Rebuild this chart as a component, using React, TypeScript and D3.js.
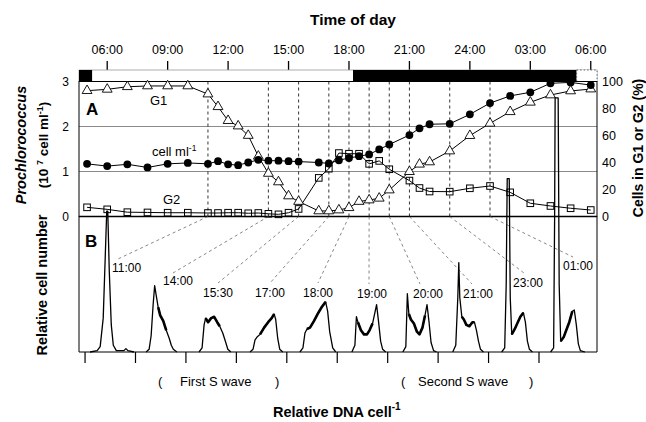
import React from 'react';
import * as d3 from 'd3';

const W = 646;
const H = 422;
const FONT = '"Liberation Sans", Arial, Helvetica, sans-serif';

// sampling times, hours from midnight of the first day
const sampleHours = [
  5, 6, 7, 8, 9, 10, 11, 11.5, 12, 12.5, 13, 13.5, 14, 14.5, 15, 15.5, 16.5, 17,
  17.5, 18, 18.5, 19, 19.5, 20, 21, 21.5, 22, 23, 24, 25, 26, 27, 28, 29, 30,
];
// Prochlorococcus, 10^7 cell ml-1
const cellDensity = [
  1.17, 1.12, 1.16, 1.09, 1.17, 1.19, 1.17, 1.23, 1.16, 1.14, 1.2, 1.26, 1.24,
  1.24, 1.23, 1.22, 1.2, 1.18, 1.25, 1.3, 1.34, 1.38, 1.49, 1.6, 1.81, 1.96,
  2.05, 2.06, 2.27, 2.52, 2.68, 2.76, 2.96, 2.98, 2.92,
];
// % of cells in G1
const g1Percent = [
  93.2, 94.2, 96.1, 96.7, 96.7, 96.7, 90.7, 81.3, 71, 67, 60, 44.6, 31.9, 25.6,
  15.2, 11.1, 4.1, 4.1, 4.8, 6.5, 11.1, 12.2, 13.5, 19.6, 33.2, 38.7, 40.4,
  48.5, 59.9, 69, 77.6, 84.6, 90, 93, 94.4,
];
// % of cells in G2
const g2Percent = [
  6.8, 5.3, 3.2, 3.0, 2.8, 2.8, 2.6, 2.6, 2.8, 2.8, 2.4, 2.6, 2.0, 1.6, 2.8,
  5.6, 28.6, 35.4, 47, 46.5, 46.5, 39, 41.2, 35, 26.6, 21.1, 18.5, 18.4, 20.9,
  22.6, 17.9, 9.8, 7.8, 6.1, 4.8,
];

const timeTicks = [6, 9, 12, 15, 18, 21, 24, 27, 30];
const timeTickLabels = ['06:00', '09:00', '12:00', '15:00', '18:00', '21:00', '24:00', '03:00', '06:00'];
const darkPeriods = [
  [4.6, 5.25],
  [18.2, 29.3],
];

const leftTicks = [0, 1, 2, 3];
const rightTicks = [0, 20, 40, 60, 80, 100];
const gridValues = [1, 2];

// DNA histograms: [position within slot, relative cell number]
const hist1100 = [
  [0.1, 0], [0.24, 0.01], [0.3, 0.04], [0.36, 0.25], [0.4, 0.7], [0.43, 1.04], [0.45, 1.04],
  [0.48, 0.6], [0.52, 0.2], [0.56, 0.05], [0.62, 0.01], [0.77, 0.01], [0.81, 0.025], [0.85, 0.01], [0.97, 0],
];
const hist1400 = [
  [0.21, 0], [0.27, 0.02], [0.31, 0.12], [0.35, 0.35], [0.38, 0.49], [0.41, 0.42], [0.45, 0.33],
  [0.49, 0.27], [0.55, 0.23], [0.61, 0.16], [0.67, 0.1], [0.71, 0.05], [0.75, 0.02], [0.82, 0],
];
const hist1530 = [
  [0.26, 0], [0.32, 0.03], [0.36, 0.2], [0.39, 0.25], [0.44, 0.22], [0.5, 0.25], [0.56, 0.26],
  [0.62, 0.22], [0.67, 0.19], [0.73, 0.14], [0.79, 0.07], [0.83, 0.02], [0.89, 0],
];
const hist1700 = [
  [0.27, 0], [0.33, 0.02], [0.37, 0.09], [0.41, 0.11], [0.47, 0.13], [0.55, 0.18], [0.63, 0.22],
  [0.7, 0.25], [0.75, 0.28], [0.78, 0.24], [0.82, 0.1], [0.86, 0.02], [0.92, 0],
];
const hist1800 = [
  [0.26, 0], [0.32, 0.03], [0.36, 0.14], [0.4, 0.17], [0.46, 0.18], [0.54, 0.23], [0.61, 0.28],
  [0.69, 0.33], [0.77, 0.37], [0.81, 0.3], [0.85, 0.15], [0.91, 0.03], [0.97, 0],
];
const hist1900 = [
  [0.29, 0], [0.35, 0.05], [0.38, 0.26], [0.41, 0.22], [0.47, 0.16], [0.53, 0.13], [0.59, 0.13],
  [0.64, 0.16], [0.7, 0.21], [0.74, 0.28], [0.78, 0.35], [0.82, 0.22], [0.86, 0.08], [0.9, 0.02], [0.96, 0],
];
const hist2000 = [
  [0.3, 0], [0.36, 0.04], [0.39, 0.43], [0.42, 0.28], [0.46, 0.24], [0.52, 0.21], [0.58, 0.15],
  [0.63, 0.13], [0.69, 0.18], [0.74, 0.27], [0.78, 0.35], [0.82, 0.22], [0.86, 0.07], [0.91, 0.01], [0.97, 0],
];
const hist2100 = [
  [0.29, 0], [0.35, 0.05], [0.39, 0.4], [0.41, 0.66], [0.43, 0.4], [0.47, 0.26], [0.51, 0.24],
  [0.56, 0.2], [0.62, 0.19], [0.68, 0.22], [0.72, 0.22], [0.76, 0.16], [0.8, 0.08], [0.84, 0.02], [0.9, 0],
];
const hist2300 = [
  [0.26, 0], [0.32, 0.03], [0.35, 0.5], [0.37, 1.28], [0.41, 1.28], [0.43, 0.4], [0.46, 0.13],
  [0.52, 0.17], [0.58, 0.22], [0.63, 0.26], [0.69, 0.29], [0.73, 0.22], [0.77, 0.08], [0.81, 0.02], [0.87, 0],
];
const hist0100 = [
  [0.23, 0], [0.29, 0.03], [0.31, 1.0], [0.32, 1.875], [0.38, 1.875], [0.4, 0.5], [0.43, 0.08],
  [0.49, 0.11], [0.54, 0.16], [0.6, 0.22], [0.66, 0.3], [0.7, 0.31], [0.74, 0.2], [0.78, 0.06],
  [0.82, 0.01], [0.91, 0],
];
const histograms = [hist1100, hist1400, hist1530, hist1700, hist1800, hist1900, hist2000, hist2100, hist2300, hist0100];
// S-phase stretch of each histogram, where the trace is noisy
const noisyRanges = [
  [0, 0], [0.45, 0.62], [0.38, 0.67], [0.45, 0.75], [0.4, 0.77], [0.41, 0.7],
  [0.42, 0.74], [0.45, 0.72], [0.46, 0.69], [0.43, 0.66],
];
const histHours = [11, 14, 15.5, 17, 18, 19, 20, 21, 23, 25];
const histLabels = ['11:00', '14:00', '15:30', '17:00', '18:00', '19:00', '20:00', '21:00', '23:00', '01:00'];
const dnaTicks = [0, 1, 2, 3, 4, 5, 6, 7, 8, 9];

// where each histogram label sits and where its leader line ends
const labelLayout = [
  { tx: 112, ty: 272, ex: 118, ey: 259 },
  { tx: 163, ty: 285, ex: 173, ey: 273 },
  { tx: 203, ty: 297, ex: 218, ey: 283 },
  { tx: 255, ty: 297, ex: 270, ey: 283 },
  { tx: 303, ty: 297, ex: 318, ey: 283 },
  { tx: 357, ty: 298, ex: 369, ey: 284 },
  { tx: 413, ty: 298, ex: 420, ey: 284 },
  { tx: 463, ty: 298, ex: 472, ey: 284 },
  { tx: 513, ty: 287, ex: 524, ey: 273 },
  { tx: 563, ty: 270, ex: 573, ey: 257 },
];

const plotL = 79;
const plotR = 597;
const barTop = 70;
const aTop = 81.5;
const aBottom = 216.5;
const bBottom = 352;

const xTime = d3.scaleLinear().domain([4.6, 30.31]).range([plotL, plotR]);
const yCells = d3.scaleLinear().domain([0, 3]).range([aBottom, aTop]);
const yPct = d3.scaleLinear().domain([0, 100]).range([aBottom, aTop]);
const xDna = d3.scaleLinear().domain([-0.12, 10.15]).range([plotL, plotR]);
const yRel = d3.scaleLinear().domain([0, 1]).range([bBottom, aBottom]);

export default function App() {
  const cellLine = d3
    .line<number>()
    .x((_, i) => xTime(sampleHours[i]))
    .y((d) => yCells(d));
  const pctLine = d3
    .line<number>()
    .x((_, i) => xTime(sampleHours[i]))
    .y((d) => yPct(d));
  const histLine = (i: number) =>
    d3
      .line<number[]>()
      .x((d) => xDna(i + d[0]))
      .y((d) => yRel(d[1]));
  const triangle = d3.symbol(d3.symbolTriangle, 42)() as string;

  return (
    <svg
      width={W}
      height={H}
      style={{ position: 'absolute', left: 0, top: 0, background: '#fff' }}
      fontFamily={FONT}
    >
      <rect width={W} height={H} fill="#fff" />

      {/* Time of day axis */}
      <text x={353} y={25} fontSize={15.5} fontWeight="bold" textAnchor="middle">
        Time of day
      </text>
      {timeTicks.map((t, i) => (
        <g key={t}>
          <line x1={xTime(t)} x2={xTime(t)} y1={61} y2={barTop} stroke="#000" strokeWidth={1.3} />
          <text x={xTime(t)} y={54} fontSize={12.5} textAnchor="middle">
            {timeTickLabels[i]}
          </text>
        </g>
      ))}
      <rect x={plotL} y={barTop} width={plotR - plotL} height={aTop - barTop} fill="#fff" stroke="#999" strokeWidth={0.8} />
      {darkPeriods.map((p, i) => (
        <rect key={i} x={xTime(p[0])} y={barTop} width={xTime(p[1]) - xTime(p[0])} height={aTop - barTop} fill="#000" />
      ))}
      <rect
        x={xTime(darkPeriods[1][1])}
        y={barTop}
        width={plotR - xTime(darkPeriods[1][1])}
        height={aTop - barTop}
        fill="#fff"
        stroke="#444"
        strokeWidth={0.8}
        strokeDasharray="1.5,2"
      />

      {/* panel A */}
      {gridValues.map((v) => (
        <line key={v} x1={plotL} x2={plotR} y1={yCells(v)} y2={yCells(v)} stroke="#8a8a8a" strokeWidth={1.2} />
      ))}
      {histHours.map((h) => (
        <line key={h} x1={xTime(h)} x2={xTime(h)} y1={aTop} y2={aBottom} stroke="#000" strokeWidth={0.8} strokeDasharray="3,3" />
      ))}
      <rect x={plotL} y={aTop} width={plotR - plotL} height={aBottom - aTop} fill="none" stroke="#000" strokeWidth={1} />

      {leftTicks.map((v) => (
        <text key={v} x={69} y={yCells(v) + 4.5} fontSize={12} textAnchor="end">
          {v}
        </text>
      ))}
      {rightTicks.map((v) => (
        <text key={v} x={602} y={yPct(v) + 4.5} fontSize={12.5} textAnchor="start">
          {v}
        </text>
      ))}

      <path d={pctLine(g1Percent) as string} fill="none" stroke="#000" strokeWidth={1} />
      <path d={pctLine(g2Percent) as string} fill="none" stroke="#000" strokeWidth={1} />
      <path d={cellLine(cellDensity) as string} fill="none" stroke="#000" strokeWidth={1} />

      {g1Percent.map((v, i) => (
        <path
          key={i}
          d={triangle}
          transform={`translate(${xTime(sampleHours[i])},${yPct(v)})`}
          fill="#fff"
          stroke="#000"
          strokeWidth={0.9}
        />
      ))}
      {g2Percent.map((v, i) => (
        <rect
          key={i}
          x={xTime(sampleHours[i]) - 3.3}
          y={yPct(v) - 3.3}
          width={6.6}
          height={6.6}
          fill="none"
          stroke="#000"
          strokeWidth={1}
        />
      ))}
      {cellDensity.map((v, i) => (
        <circle key={i} cx={xTime(sampleHours[i])} cy={yCells(v)} r={3.9} fill="#000" />
      ))}

      <text x={86} y={115} fontSize={17} fontWeight="bold">A</text>
      <text x={150} y={105} fontSize={13}>G1</text>
      <text x={152} y={156} fontSize={13}>
        cell ml<tspan fontSize={8.5} dy={-5}>-1</tspan>
      </text>
      <text x={163} y={204} fontSize={13}>G2</text>

      {/* panel B */}
      <line x1={plotL} x2={plotR} y1={aBottom} y2={aBottom} stroke="#000" strokeWidth={1.6} />
      <line x1={plotL} x2={plotL} y1={aBottom} y2={bBottom} stroke="#000" strokeWidth={1} />
      <line x1={plotR} x2={plotR} y1={aBottom} y2={bBottom} stroke="#000" strokeWidth={1} />
      <line x1={plotL} x2={plotR} y1={bBottom} y2={bBottom} stroke="#000" strokeWidth={1} />
      {dnaTicks.map((t) => (
        <line key={t} x1={xDna(t)} x2={xDna(t)} y1={bBottom} y2={bBottom + 11} stroke="#000" strokeWidth={1.2} />
      ))}

      {histHours.map((h, i) => (
        <line
          key={h}
          x1={xTime(h)}
          y1={aBottom}
          x2={labelLayout[i].ex}
          y2={labelLayout[i].ey}
          stroke="#555"
          strokeWidth={0.7}
          strokeDasharray="3,3"
        />
      ))}
      {histograms.map((pts, i) => (
        <g key={i}>
          <path
            d={histLine(i)(pts) as string}
            fill="none"
            stroke="#000"
            strokeWidth={1.3}
            strokeLinejoin="round"
          />
          <path
            d={histLine(i)(pts.filter((p) => p[0] >= noisyRanges[i][0] && p[0] <= noisyRanges[i][1])) as string}
            fill="none"
            stroke="#000"
            strokeWidth={2.6}
            strokeLinejoin="round"
          />
        </g>
      ))}
      {histLabels.map((l, i) => (
        <text key={l} x={labelLayout[i].tx} y={labelLayout[i].ty} fontSize={12}>
          {l}
        </text>
      ))}
      <text x={85} y={247} fontSize={17} fontWeight="bold">B</text>

      <text x={158} y={386} fontSize={13}>(</text>
      <text x={180} y={386} fontSize={13}>First S wave</text>
      <text x={275} y={386} fontSize={13}>)</text>
      <text x={401} y={386} fontSize={13}>(</text>
      <text x={418} y={386} fontSize={13}>Second S wave</text>
      <text x={529} y={386} fontSize={13}>)</text>

      <text x={273} y={417} fontSize={14.5} fontWeight="bold">
        Relative DNA cell<tspan fontSize={10} dy={-7}>-1</tspan>
      </text>

      {/* rotated axis titles */}
      <text transform="translate(26,145) rotate(-90)" fontSize={14.5} fontWeight="bold" fontStyle="italic" textAnchor="middle">
        Prochlorococcus
      </text>
      <text transform="translate(48,145) rotate(-90)" fontSize={13.5} fontWeight="bold" textAnchor="middle">
        (10 <tspan fontSize={9} dy={-5}>7</tspan>
        <tspan dy={5}> cell ml</tspan>
        <tspan fontSize={9} dy={-5}>-1</tspan>
        <tspan dy={5}>)</tspan>
      </text>
      <text transform="translate(47,285) rotate(-90)" fontSize={14.5} fontWeight="bold" textAnchor="middle">
        Relative cell number
      </text>
      <text transform="translate(643,148) rotate(-90)" fontSize={14} fontWeight="bold" textAnchor="middle">
        Cells in G1 or G2 (%)
      </text>
    </svg>
  );
}
